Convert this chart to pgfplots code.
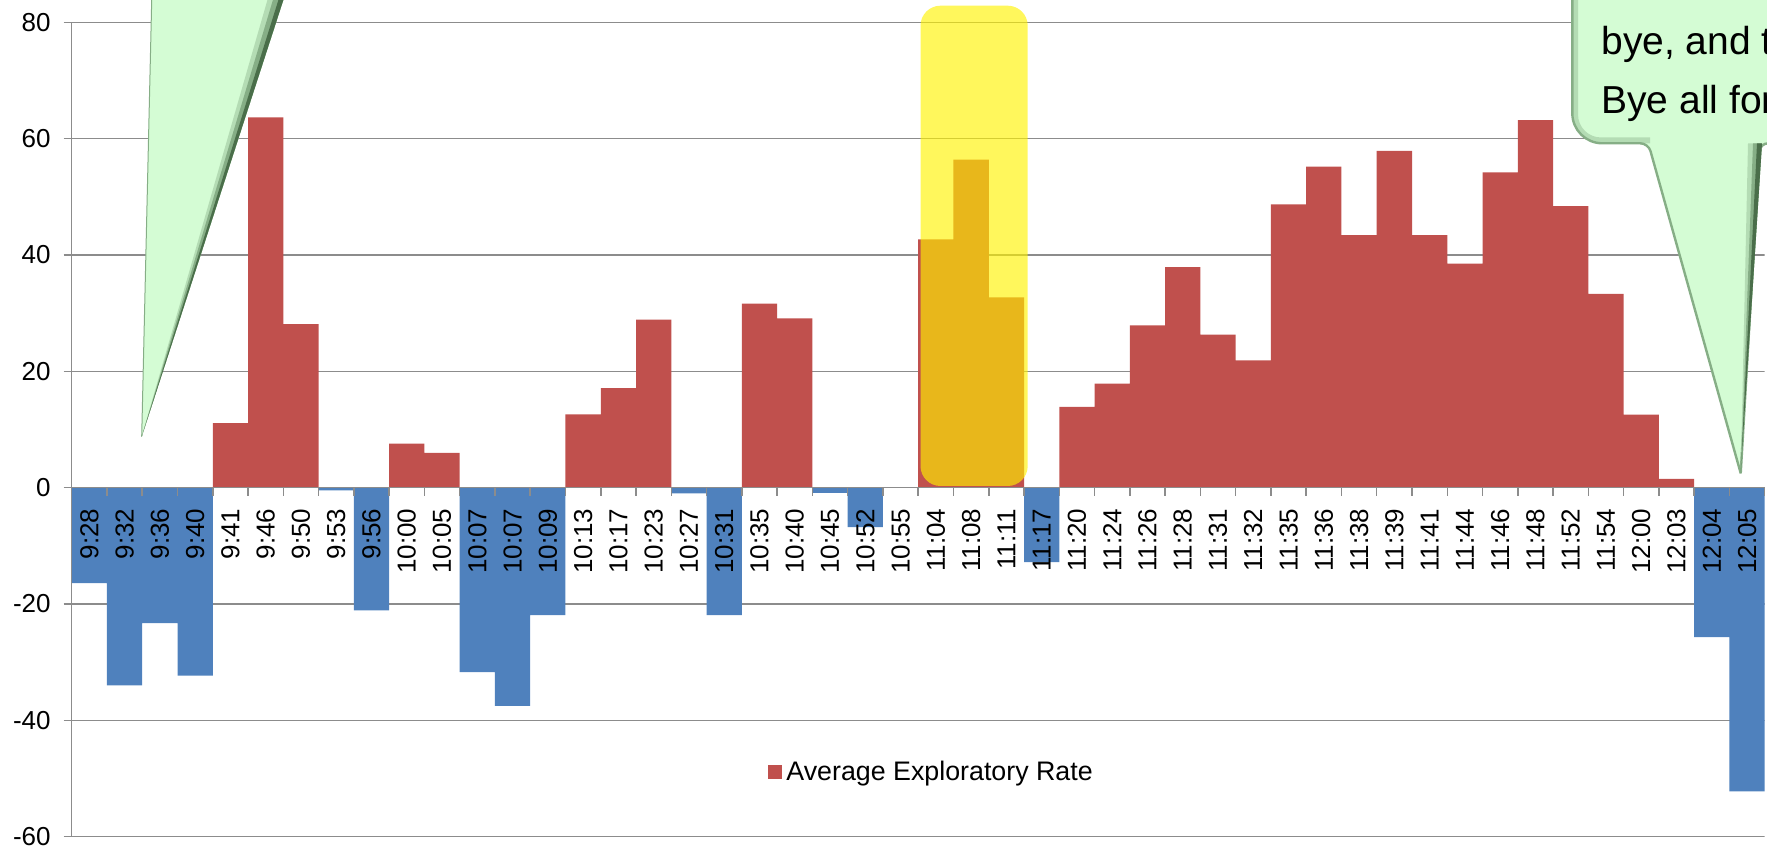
\documentclass[border=0pt]{standalone}
\usepackage{pgfplots}
\pgfplotsset{compat=1.18}
\usepackage{fontspec}
\setmainfont{Liberation Sans}
\definecolor{barred}{HTML}{C0504D}
\definecolor{barblue}{HTML}{4F81BD}
\definecolor{gridgray}{HTML}{8C8C8C}
\definecolor{callgreen}{HTML}{D4FCD4}
\definecolor{calldark}{HTML}{4A6E4A}
\definecolor{callmid}{HTML}{86AE86}
\definecolor{calllight}{HTML}{B4DCB4}
\newcommand{\tickfont}{\fontsize{13}{15}\selectfont}
\begin{document}
\begin{tikzpicture}
\begin{axis}[
  axis on top,
  scale only axis,
  width=846.5pt, height=407.2pt,
  anchor=south west, at={(35.85pt,-418.35pt)},
  xmin=-0.5, xmax=47.5, ymin=-60, ymax=80,
  axis x line=middle, axis y line=left,
  axis line style={-, draw=gridgray, line width=0.75pt},
  ytick={-60,-40,-20,0,20,40,60,80},
  yticklabels={-60,-40,-20,0,20,40,60,80},
  tick align=outside,
  major tick length=4pt,
  tick style={gridgray, line width=0.75pt},
  xtick={-0.5,0.5,...,47.5},
  xticklabel=\empty,
  extra x ticks={0,...,47},
  extra x tick labels={9:28,9:32,9:36,9:40,9:41,9:46,9:50,9:53,9:56,10:00,10:05,10:07,10:07,10:09,10:13,10:17,10:23,10:27,10:31,10:35,10:40,10:45,10:52,10:55,11:04,11:08,11:11,11:17,11:20,11:24,11:26,11:28,11:31,11:32,11:35,11:36,11:38,11:39,11:41,11:44,11:46,11:48,11:52,11:54,12:00,12:03,12:04,12:05},
  extra x tick style={major tick length=0pt,
    tick label style={yshift=-7pt, rotate=90, anchor=east, font=\tickfont}},
  yticklabel style={xshift=-3pt, font=\tickfont},
  legend style={at={(0.411,0.0794)}, anchor=west, draw=none, fill=none, inner sep=0pt, font=\fontsize{13.4}{16}\selectfont},
]
% horizontal grid lines (behind the bars)
\addplot[gridgray, line width=0.75pt, forget plot] coordinates {(-0.5,-60) (47.5,-60)};
\addplot[gridgray, line width=0.75pt, forget plot] coordinates {(-0.5,-40) (47.5,-40)};
\addplot[gridgray, line width=0.75pt, forget plot] coordinates {(-0.5,-20) (47.5,-20)};
\addplot[gridgray, line width=0.75pt, forget plot] coordinates {(-0.5,20) (47.5,20)};
\addplot[gridgray, line width=0.75pt, forget plot] coordinates {(-0.5,40) (47.5,40)};
\addplot[gridgray, line width=0.75pt, forget plot] coordinates {(-0.5,60) (47.5,60)};
\addplot[gridgray, line width=0.75pt, forget plot] coordinates {(-0.5,80) (47.5,80)};
\addplot[ybar, bar width=1, bar shift=0pt, fill=barred, draw=none,
  legend image code/.code={\fill[barred] (0pt,-3.6pt) rectangle (7.25pt,3.6pt);}]
coordinates {
(4,11.1) (5,63.65) (6,28.1) (9,7.57) (10,6.0) (14,12.6) (15,17.1) (16,28.9)
(19,31.65) (20,29.1) (24,42.7) (25,56.4) (26,32.7) (28,13.9) (29,17.9) (30,27.9)
(31,37.9) (32,26.3) (33,21.9) (34,48.7) (35,55.2) (36,43.4) (37,57.9) (38,43.4)
(39,38.5) (40,54.2) (41,63.2) (42,48.4) (43,33.3) (44,12.55) (45,1.5)
};
\addlegendentry{Average Exploratory Rate}
\addplot[ybar, bar width=1, bar shift=0pt, fill=barblue, draw=none, forget plot]
coordinates {
(0,-16.4) (1,-34.0) (2,-23.3) (3,-32.3) (7,-0.45) (8,-21.1) (11,-31.7) (12,-37.5)
(13,-21.9) (17,-1.0) (18,-21.9) (21,-0.9) (22,-6.8) (27,-12.8) (46,-25.7) (47,-52.2)
};
\end{axis}
\begin{scope}[x=0.5pt, y=-0.5pt, overlay]
\clip (0,0) rectangle (1767,849);
% yellow highlight
\fill[yellow, opacity=0.64, rounded corners=10pt] (920.5,5.7) rectangle (1027.7,486);
% left callout pointer
\fill[callgreen] (156.3,-200) -- (141.7,436.7) -- (348.2,-200) -- cycle;
\fill[calllight] (348.2,-200) -- (141.7,436.7) -- (325,-200) -- cycle;
\fill[callmid] (348.2,-200) -- (141.7,436.7) -- (333,-200) -- cycle;
\fill[calldark] (348.2,-200) -- (141.7,436.7) -- (341,-200) -- cycle;
\draw[callmid, line width=0.5pt] (156.3,-200) -- (141.7,436.7);
% right callout
\fill[callgreen] (1572.3,-100) [rounded corners=15pt] -- (1572.3,143.3) [rounded corners=4pt] -- (1648.3,143.3) [sharp corners] -- (1740.7,473.3) [rounded corners=4pt] -- (1760,143.3) [sharp corners] -- (1900,143.3) -- (1900,-100) -- cycle;
\draw[calllight, line width=3pt] (1575,-100) [rounded corners=13pt] -- (1575,140.5) -- (1650,140.5);
\draw[callmid, line width=1.2pt] (1572.3,-100) [rounded corners=15pt] -- (1572.3,143.3) [rounded corners=4pt] -- (1648.3,143.3) [sharp corners] -- (1740.7,473.3);
\draw[callmid, line width=1.2pt] (1740.7,473.3) [rounded corners=4pt] -- (1760,143.3) [sharp corners] -- (1900,143.3);
\fill[calllight] (1762,143.3) -- (1740.7,473.3) -- (1748,143.3) -- cycle;
\fill[callmid] (1762,143.3) -- (1740.7,473.3) -- (1753,143.3) -- cycle;
\fill[calldark] (1762,143.3) -- (1740.7,473.3) -- (1757,143.3) -- cycle;
\node[anchor=base west, inner sep=0pt, font=\fontsize{19.5}{23}\selectfont] at (1601,55) {bye, and then};
\node[anchor=base west, inner sep=0pt, font=\fontsize{19.5}{23}\selectfont] at (1601,113.3) {Bye all for now};
\end{scope}
\pgfresetboundingbox
\path (0,0) rectangle (883.5pt,-424.5pt);
\end{tikzpicture}
\end{document}
